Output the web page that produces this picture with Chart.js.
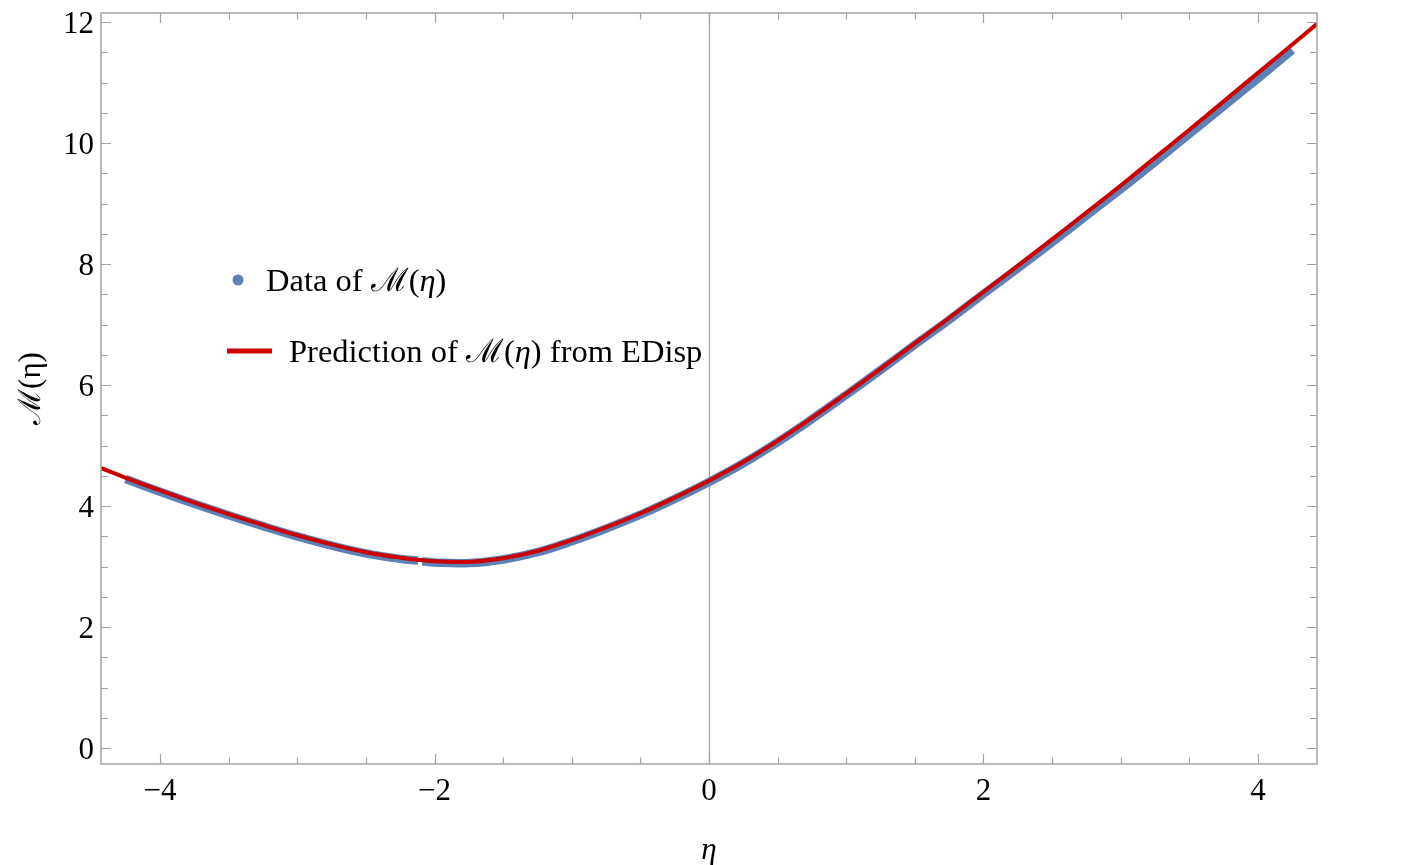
<!DOCTYPE html>
<html>
<head>
<meta charset="utf-8">
<script src="https://cdn.jsdelivr.net/npm/chart.js@4.4.1/dist/chart.umd.min.js"></script>
<style>
html,body{margin:0;padding:0;background:#ffffff;}
#wrap{width:1408px;height:865px;position:relative;}
</style>
</head>
<body>
<div id="wrap"><canvas id="c" width="1408" height="865"></canvas></div>
<script>
// ---- data ----
const etaData = [-4.25,-4.0,-3.75,-3.5,-3.25,-3.0,-2.75,-2.5,-2.25,-2.12,-2.1,-2.09,-2.0,-1.75,-1.5,-1.25,-1.0,-0.75,-0.5,-0.25,0,0.25,0.5,0.75,1.0,1.25,1.5,1.75,2.0,2.25,2.5,2.75,3.0,3.25,3.5,3.75,4.0,4.25];
const mData   = [4.45,4.24,4.04,3.85,3.67,3.50,3.35,3.22,3.13,3.10,null,3.09,3.07,3.06,3.12,3.24,3.42,3.63,3.86,4.12,4.40,4.71,5.06,5.44,5.84,6.25,6.67,7.08,7.51,7.93,8.36,8.80,9.24,9.69,10.15,10.61,11.07,11.54];

const etaPred = [-4.43,-4.25,-4.0,-3.75,-3.5,-3.25,-3.0,-2.75,-2.5,-2.25,-2.0,-1.75,-1.5,-1.25,-1.0,-0.75,-0.5,-0.25,0,0.25,0.5,0.75,1.0,1.25,1.5,1.75,2.0,2.25,2.5,2.75,3.0,3.25,3.5,3.75,4.0,4.25,4.43];
const mPred   = [4.63,4.47,4.26,4.06,3.87,3.69,3.52,3.37,3.24,3.15,3.09,3.08,3.14,3.26,3.44,3.65,3.88,4.14,4.42,4.73,5.08,5.46,5.86,6.27,6.69,7.11,7.54,7.97,8.41,8.85,9.30,9.76,10.22,10.69,11.16,11.63,11.97];

const xTicks = [-4,-2,0,2,4];
const yTicks = [0,2,4,6,8,10,12];
const xMinorStep = 0.5;
const yMinorStep = 0.5;

const seriesNames = ['Data of ', 'Prediction of '];

const BLUE = '#5E81B5';
const RED = '#CC0000';
const FRAME = '#a3a3a3';
const SERIF = '"Liberation Serif", "Times New Roman", "DejaVu Serif", serif';

function toPts(xs, ys){ return xs.map((x,i)=>({x:x, y:ys[i]})); }
function fmt(v){ return v < 0 ? '\u2212' + Math.abs(v) : String(v); }

const framePlugin = {
  id: 'frame',
  beforeDatasetsDraw(chart){
    const {ctx, chartArea:a, scales:{x}} = chart;
    ctx.save();
    ctx.strokeStyle = FRAME; ctx.lineWidth = 1.3;
    const px = Math.round(x.getPixelForValue(0)) + 0.5;
    ctx.beginPath(); ctx.moveTo(px, a.top); ctx.lineTo(px, a.bottom); ctx.stroke();
    ctx.restore();
  },
  afterDatasetsDraw(chart){
    const {ctx, chartArea:a, scales:{x,y}} = chart;
    ctx.save();
    ctx.strokeStyle = FRAME; ctx.lineWidth = 1.5;
    ctx.strokeRect(a.left, a.top, a.right - a.left, a.bottom - a.top);
    ctx.lineWidth = 1.2;
    ctx.beginPath();
    for (let v = Math.ceil(x.min / xMinorStep) * xMinorStep; v <= x.max + 1e-9; v += xMinorStep) {
      const vv = Math.round(v * 100) / 100;
      const len = xTicks.includes(vv) ? 10 : 6.5;
      const px = Math.round(x.getPixelForValue(vv)) + 0.5;
      ctx.moveTo(px, a.bottom); ctx.lineTo(px, a.bottom - len);
      ctx.moveTo(px, a.top); ctx.lineTo(px, a.top + len);
    }
    for (let v = Math.ceil(y.min / yMinorStep) * yMinorStep; v <= y.max + 1e-9; v += yMinorStep) {
      const vv = Math.round(v * 100) / 100;
      const len = yTicks.includes(vv) ? 10 : 7;
      const py = Math.round(y.getPixelForValue(vv)) + 0.5;
      ctx.moveTo(a.left, py); ctx.lineTo(a.left + len, py);
      ctx.moveTo(a.right, py); ctx.lineTo(a.right - len, py);
    }
    ctx.stroke();
    ctx.restore();
  },
  afterDraw(chart){
    const ctx = chart.ctx;
    ctx.save();
    const size = 32.5;
    function drawRich(x0, baseline, parts){
      let x = x0;
      parts.forEach(p => {
        ctx.font = (p.italic ? 'italic ' : '') + size + 'px ' + SERIF;
        ctx.fillStyle = '#000';
        ctx.textBaseline = 'alphabetic';
        ctx.textAlign = 'left';
        ctx.fillText(p.t, x, baseline);
        x += ctx.measureText(p.t).width;
      });
    }
    // row 1 : data
    ctx.fillStyle = BLUE;
    ctx.beginPath(); ctx.arc(238, 280, 5.5, 0, Math.PI*2); ctx.fill();
    drawRich(266, 291, [{t:seriesNames[0]},{t:'\u2133'},{t:'('},{t:'\u03B7',italic:true},{t:')'}]);
    // row 2 : prediction
    ctx.strokeStyle = RED; ctx.lineWidth = 5;
    ctx.beginPath(); ctx.moveTo(227, 351); ctx.lineTo(272, 351); ctx.stroke();
    drawRich(289, 362, [{t:seriesNames[1]},{t:'\u2133'},{t:'('},{t:'\u03B7',italic:true},{t:') from EDisp'}]);
    ctx.restore();
  }
};

new Chart(document.getElementById('c'), {
  type: 'line',
  data: {
    datasets: [
      {
        label: 'Prediction of \u2133(\u03B7) from EDisp',
        data: toPts(etaPred, mPred),
        borderColor: RED,
        borderWidth: 4,
        pointRadius: 0,
        tension: 0.4,
        fill: false,
        order: 0
      },
      {
        label: 'Data of \u2133(\u03B7)',
        data: toPts(etaData, mData),
        borderColor: BLUE,
        backgroundColor: BLUE,
        borderWidth: 8.5,
        pointRadius: 0,
        spanGaps: false,
        borderCapStyle: 'butt',
        tension: 0.4,
        fill: false,
        order: 1
      }
    ]
  },
  options: {
    responsive: false,
    devicePixelRatio: 1,
    animation: false,
    layout: { padding: { left: 0, right: 91, top: 13, bottom: 0 } },
    plugins: { legend: { display: false }, tooltip: { enabled: false } },
    scales: {
      x: {
        type: 'linear',
        min: -4.43, max: 4.43,
        afterFit: s => { s.height = 101; s.paddingLeft = 0; s.paddingRight = 0; },
        afterBuildTicks: s => { s.ticks = xTicks.map(v => ({value: v})); },
        grid: { display: false, drawTicks: false },
        border: { display: false },
        ticks: { color: '#000', font: { family: SERIF, size: 31 }, padding: 9, maxRotation: 0, autoSkip: false, callback: v => fmt(v) },
        title: { display: true, text: '\u03B7', color: '#000', font: { family: SERIF, size: 31, style: 'italic' }, padding: { top: 0, bottom: -4 } }
      },
      y: {
        type: 'linear',
        min: -0.26, max: 12.15,
        afterFit: s => { s.width = 101; s.paddingTop = 0; s.paddingBottom = 0; },
        afterBuildTicks: s => { s.ticks = yTicks.map(v => ({value: v})); },
        grid: { display: false, drawTicks: false },
        border: { display: false },
        ticks: { color: '#000', font: { family: SERIF, size: 31 }, padding: 7, labelOffset: 3, autoSkip: false, callback: v => fmt(v) },
        title: { display: true, text: '\u2133(\u03B7)', color: '#000', font: { family: SERIF, size: 31 }, padding: { top: 13, bottom: 0 } }
      }
    }
  },
  plugins: [framePlugin]
});
</script>
</body>
</html>
